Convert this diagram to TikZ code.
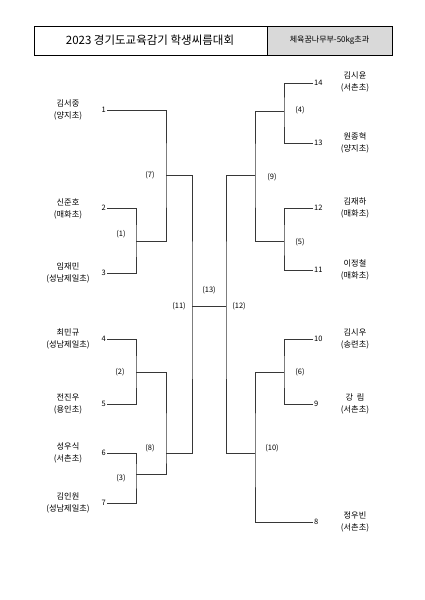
\documentclass[tikz,border=0pt]{standalone}
\usepackage{fontspec}
\setmainfont{Noto Sans CJK KR}
\usepackage{xcolor}
\definecolor{bline}{RGB}{55,55,55}
\definecolor{cellgray}{RGB}{217,217,217}
\usepackage{tikz}
\usetikzlibrary{positioning,calc}

\begin{document}
\begin{tikzpicture}[x=1pt,y=-1pt,
    bracket/.style={draw=bline, line width=0.6pt},
    seednum/.style={font=\fontsize{7.5}{9}\selectfont, inner sep=1pt},
    matchno/.style={font=\fontsize{7.5}{9}\selectfont, inner sep=0pt},
    entrant/.style={font=\fontsize{8.2}{12}\selectfont, align=center, inner sep=0pt}]
        \useasboundingbox (0,0) rectangle (424,600);

        % Header
        \draw[line width=0.6pt] (34,26) rectangle (392,55);
        \draw[line width=0.6pt, fill=cellgray] (267,26) rectangle (392,55);
        \node[font=\fontsize{11.5}{13}\selectfont] (title) at (150,40.5) {2023 경기도교육감기 학생씨름대회};
        \node[font=\fontsize{8}{10}\selectfont] (division) at (329.5,40.5) {체육꿈나무부-50kg초과};

        % Left entrants
        \node[seednum, anchor=east] (s1) at (107,110) {1};
        \node[seednum, anchor=east] (s2) at (107,208) {2};
        \node[seednum, anchor=east] (s3) at (107,273) {3};
        \node[seednum, anchor=east] (s4) at (107,339) {4};
        \node[seednum, anchor=east] (s5) at (107,404) {5};
        \node[seednum, anchor=east] (s6) at (107,453) {6};
        \node[seednum, anchor=east] (s7) at (107,503) {7};
        \node[entrant] (n1) at (68,110) {김서중\\(양지초)};
        \node[entrant] (n2) at (68,209) {신준호\\(매화초)};
        \node[entrant] (n3) at (68,273) {임재민\\(성남제일초)};
        \node[entrant] (n4) at (68,339) {최민규\\(성남제일초)};
        \node[entrant] (n5) at (68,404) {전진우\\(용인초)};
        \node[entrant] (n6) at (68,453) {성우식\\(서촌초)};
        \node[entrant] (n7) at (68,503) {김인원\\(성남제일초)};

        % Right entrants
        \node[seednum, anchor=west] (s14) at (313,83) {14};
        \node[seednum, anchor=west] (s13) at (313,143) {13};
        \node[seednum, anchor=west] (s12) at (313,208) {12};
        \node[seednum, anchor=west] (s11) at (313,270) {11};
        \node[seednum, anchor=west] (s10) at (313,339) {10};
        \node[seednum, anchor=west] (s9) at (313,404) {9};
        \node[seednum, anchor=west] (s8) at (313,522) {8};
        \node[entrant] (n14) at (355,82) {김시윤\\(서촌초)};
        \node[entrant] (n13) at (355,143) {원종혁\\(양지초)};
        \node[entrant] (n12) at (355,208) {김재하\\(매화초)};
        \node[entrant] (n11) at (355,270) {이정철\\(매화초)};
        \node[entrant] (n10) at (355,339) {김시우\\(송련초)};
        \node[entrant] (n9) at (355,404) {강\ \ 림\\(서촌초)};
        \node[entrant] (n8) at (355,522) {정우빈\\(서촌초)};

        % Match points
        \coordinate (m1) at (136,241);
        \coordinate (m2) at (136,372);
        \coordinate (m3) at (136,474);
        \coordinate (m7) at (166,175);
        \coordinate (m8) at (166,453);
        \coordinate (m11) at (192,306);
        \coordinate (m4) at (284,111);
        \coordinate (m5) at (284,241);
        \coordinate (m6) at (284,372);
        \coordinate (m9) at (255,175);
        \coordinate (m10) at (255,453);
        \coordinate (m12) at (226,306);

        % Left half
        \draw[bracket] (s2.east) -| (m1) |- (s3.east);
        \draw[bracket] (s4.east) -| (m2) |- (s5.east);
        \draw[bracket] (s6.east) -| (m3) |- (s7.east);
        \draw[bracket] (s1.east) -| (m7) |- (m1);
        \draw[bracket] (m2) -| (m8) |- (m3);
        \draw[bracket] (m7) -| (m11) |- (m8);

        % Right half
        \draw[bracket] (s14.west) -| (m4) |- (s13.west);
        \draw[bracket] (s12.west) -| (m5) |- (s11.west);
        \draw[bracket] (s10.west) -| (m6) |- (s9.west);
        \draw[bracket] (m4) -| (m9) |- (m5);
        \draw[bracket] (m6) -| (m10) |- (s8.west);
        \draw[bracket] (m9) -| (m12) |- (m10);

        % Final
        \draw[bracket] (m11) -- (m12);

        % Match numbers
        \node[matchno] (l1) at (121,234) {(1)};
        \node[matchno] (l2) at (120,372) {(2)};
        \node[matchno] (l3) at (121,478) {(3)};
        \node[matchno] (l7) at (150,175) {(7)};
        \node[matchno] (l8) at (150,448) {(8)};
        \node[matchno] (l11) at (179,306) {(11)};
        \node[matchno] (l13) at (209,290) {(13)};
        \node[matchno] (l12) at (239,306) {(12)};
        \node[matchno] (l4) at (300,110) {(4)};
        \node[matchno] (l5) at (300,242) {(5)};
        \node[matchno] (l6) at (300,372) {(6)};
        \node[matchno] (l9) at (272,177) {(9)};
        \node[matchno] (l10) at (272,448) {(10)};
    \end{tikzpicture}
\end{document}
